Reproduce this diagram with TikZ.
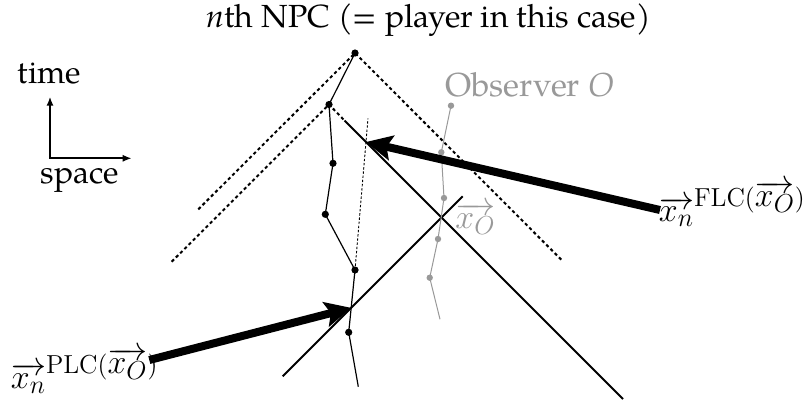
\documentclass[tikz,border=0pt]{standalone}
\usepackage{fontspec}
\usepackage{fix-cm}
\newfontfamily\palfont{TeX Gyre Pagella}
\usetikzlibrary{arrows.meta}
\DeclareMathSizes{17}{17}{13}{9.5}
\definecolor{obsgray}{rgb}{0.6,0.6,0.6}
\begin{document}
\begin{tikzpicture}[x=0.5pt,y=-0.5pt,
  txt/.style={inner sep=0pt,font=\fontsize{16}{19}\palfont},
  mathlbl/.style={inner sep=0pt,font=\fontsize{17}{20}\selectfont},
  world/.style={line width=0.6pt,black},
  obsline/.style={line width=0.5pt,obsgray},
  extrap/.style={line width=0.45pt,dash pattern=on 1.2pt off 0.9pt},
  conedash/.style={line width=1pt,dash pattern=on 1.6pt off 1.4pt},
  conesolid/.style={line width=1pt},
  bigarrow/.style={line width=4pt,-{Stealth[length=13pt,width=12.5pt,inset=2.5pt]}},
  axisline/.style={line width=1pt,{Latex[length=4.5pt,width=3.6pt]}-{Latex[length=4.5pt,width=3.6pt]}}]
\useasboundingbox (0,0) rectangle (806,412);

% title
\node[txt,anchor=base] (title) at (428.5,27.3) {\textit{n}th NPC (= player in this case)};

% axes
\coordinate (ax0) at (50,158.3);
\coordinate (axT) at (50,96.7);
\coordinate (axS) at (131.7,158.3);
\draw[axisline] (axT) -- (ax0) -- (axS);
\node[txt,anchor=base] (time) at (49.3,83.3) {time};
\node[txt,anchor=base] (space) at (80,183.3) {space};

% NPC worldline points
\coordinate (p1) at (355,53);
\coordinate (p2) at (329,104.5);
\coordinate (p3) at (333,163.3);
\coordinate (p4) at (325.3,214.3);
\coordinate (p5) at (355,270);
\coordinate (p6) at (348.7,332.3);
\coordinate (pend) at (358.3,386.7);
\coordinate (dtop) at (368,118.3);

% light cone lines
\coordinate (l1) at (198.3,209.3);
\coordinate (r1) at (562.3,260.7);
\coordinate (l2) at (171.7,261.7);
\coordinate (xO) at (441.5,217.5);
\coordinate (a1) at (344.5,120.5);
\coordinate (a2) at (623,399);
\coordinate (b1) at (462.7,196.3);
\coordinate (b2) at (282.7,376.3);

\draw[conedash] (l1) -- (p1) -- (r1);
\draw[conedash] (l2) -- (p2) -- (a1);
\draw[conesolid] (a1) -- (a2);
\draw[conesolid] (b1) -- (b2);

% extrapolated line
\draw[extrap] (p5) -- (dtop);

% NPC worldline
\draw[world] (p1) -- (p2) -- (p3) -- (p4) -- (p5) -- (p6) -- (pend);
\foreach \p in {p1,p2,p3,p4,p5,p6} \fill (\p) circle (1.8pt);

% observer worldline
\coordinate (g1) at (451,105.7);
\coordinate (g2) at (441.3,152.3);
\coordinate (g3) at (444,198);
\coordinate (g4) at (438,239);
\coordinate (g5) at (429.7,277.7);
\coordinate (gend) at (440,319.3);
\draw[obsline] (g1) -- (g2) -- (g3) -- (g4) -- (g5) -- (gend);
\foreach \p in {g1,g2,g3,g4,g5} \fill[obsgray] (\p) circle (1.6pt);
\node[txt,anchor=base west,text=obsgray,font=\fontsize{16.6}{19}\palfont] (obs) at (445,96.5) {Observer \textit{O}};
\node[mathlbl,anchor=base west,text=obsgray] (xOlbl) at (455,228) {$\overrightarrow{x_O}$};

% arrows
\coordinate (ftail) at (660,210);
\coordinate (ptail) at (149.3,360);
\coordinate (ftip) at (intersection of p5--dtop and a1--a2);
\coordinate (ptip) at (intersection of p5--p6 and b1--b2);
\draw[bigarrow] (ftail) -- (ftip);
\draw[bigarrow] (ptail) -- (ptip);

\node[mathlbl,anchor=base west] (flc) at (658.5,221.7) {$\overrightarrow{x_n}^{\mathrm{FLC}(\overrightarrow{x_O})}$};
\node[mathlbl,anchor=base west] (plc) at (10.5,388.3) {$\overrightarrow{x_n}^{\mathrm{PLC}(\overrightarrow{x_O})}$};
\end{tikzpicture}
\end{document}
